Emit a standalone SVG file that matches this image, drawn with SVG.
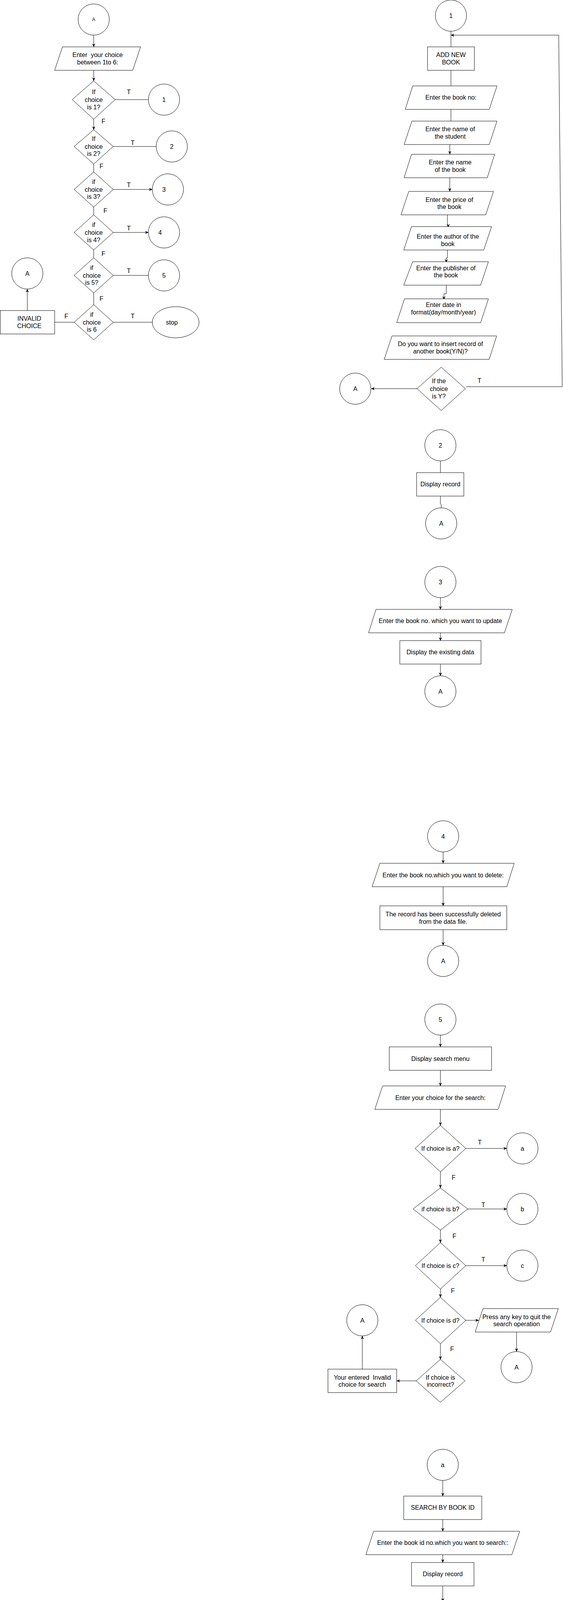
<svg xmlns="http://www.w3.org/2000/svg" width="1442" height="5511" viewBox="0 0 1442 5511">
<style>
.s{fill:#fff;stroke:#000;stroke-width:1}
.c{fill:none;stroke:#000;stroke-width:1}
.a{marker-end:url(#arr)}
text{font-family:"Liberation Sans",Arial,Helvetica,sans-serif;font-size:16px;fill:#000;text-anchor:middle}
.sm{font-size:12px}
</style>
<defs>
<marker id="arr" viewBox="0 0 10 10" refX="10" refY="5" markerWidth="8" markerHeight="8" markerUnits="userSpaceOnUse" orient="auto">
<path d="M0,0.5 L10,5 L0,9.5 L3,5 Z" fill="#000" stroke="#000" stroke-width="0.5"/>
</marker>
</defs>
<rect x="0" y="0" width="1442" height="5511" fill="#fff"/>

<g id="connectors">
<!-- main menu -->
<path class="c a" d="M240,90 L240,120"/>
<path class="c a" d="M240,180 L240,207"/>
<path class="c a" d="M240,305 L240,332"/>
<path class="c" d="M240,420 L240,440"/>
<path class="c" d="M240,530 L240,550"/>
<path class="c" d="M240,640 L240,660"/>
<path class="c" d="M240,750 L240,780"/>
<path class="c" d="M295,255 L380,255"/>
<path class="c" d="M290,375 L400,375"/>
<path class="c a" d="M290,485 L390,485"/>
<path class="c a" d="M290,595 L380,595"/>
<path class="c" d="M290,705 L380,705"/>
<path class="c" d="M290,825 L390,825"/>
<path class="c" d="M190,825 L140,825"/>
<path class="c a" d="M70,795 L70,740"/>
<!-- section 1 -->
<path class="c" d="M1155,120 L1155,80"/>
<path class="c a" d="M1194,990 L1440,990 L1431,90 L1155,90"/>
<path class="c" d="M1155,180 L1155,220"/>
<path class="c" d="M1155,280 L1155,310"/>
<path class="c a" d="M1152,370 L1152,395"/>
<path class="c a" d="M1152,455 L1152,490"/>
<path class="c a" d="M1146,550 L1146,576 L1148,576 L1148,582"/>
<path class="c a" d="M1146,640 L1146,660 L1143,660 L1143,672"/>
<path class="c a" d="M1143,730 L1143,752 L1137,752 L1137,767"/>
<path class="c a" d="M1068,995 L951,995"/>
<!-- section 2 -->
<path class="c" d="M1128,1180 L1128,1210"/>
<path class="c" d="M1128,1270 L1128,1290 L1130,1292 L1130,1300"/>
<!-- section 3 -->
<path class="c a" d="M1128,1530 L1128,1560"/>
<path class="c a" d="M1128,1620 L1128,1640"/>
<path class="c a" d="M1128,1700 L1128,1730"/>
<!-- section 4 -->
<path class="c a" d="M1135,2181 L1135,2210"/>
<path class="c a" d="M1135,2270 L1135,2319"/>
<path class="c a" d="M1135,2380 L1135,2420"/>
<!-- section 5 -->
<path class="c a" d="M1128,2650 L1128,2680"/>
<path class="c a" d="M1128,2740 L1128,2780"/>
<path class="c a" d="M1128,2840 L1128,2881"/>
<path class="c a" d="M1193,2940 L1298,2940"/>
<path class="c a" d="M1128,3000 L1128,3041"/>
<path class="c a" d="M1198,3095 L1298,3095"/>
<path class="c a" d="M1128,3149 L1128,3181"/>
<path class="c a" d="M1193,3240 L1298,3240"/>
<path class="c a" d="M1128,3300 L1128,3321"/>
<path class="c a" d="M1193,3380 L1226,3380"/>
<path class="c a" d="M1323,3410 L1323,3460"/>
<path class="c a" d="M1128,3440 L1128,3480"/>
<path class="c a" d="M1066,3535 L1016,3535"/>
<path class="c a" d="M928,3505 L928,3420"/>
<!-- section a -->
<path class="c a" d="M1134,3790 L1134,3830"/>
<path class="c a" d="M1134,3890 L1134,3920"/>
<path class="c a" d="M1134,3980 L1134,4000"/>
<path class="c a" d="M1134,4060 L1134,4100"/>
<!-- section b -->
<path class="c a" d="M1118,4460 L1118,4490"/>
<path class="c a" d="M1118,4550 L1118,4580"/>
<path class="c a" d="M1118,4640 L1118,4681"/>
<path class="c a" d="M1036,4755 L998,4755"/>
<path class="c a" d="M897,4725 L897,4690"/>
<path class="c a" d="M1118,4830 L1118,4861"/>
<!-- section c -->
<path class="c a" d="M1109,5050 L1109,5080"/>
<path class="c a" d="M1109,5140 L1109,5160 L1110,5160 L1110,5171"/>
<path class="c a" d="M1110,5230 L1110,5270"/>
<path class="c a" d="M1027,5345 L989,5345"/>
<path class="c a" d="M888,5315 L888,5270"/>
<path class="c a" d="M1110,5420 L1110,5450"/>
</g>

<g id="labels">
<text x="330" y="241">T</text>
<text x="265" y="316">F</text>
<text x="340" y="371">T</text>
<text x="260" y="431">F</text>
<text x="330" y="479">T</text>
<text x="270" y="545">F</text>
<text x="330" y="590">T</text>
<text x="265" y="655">F</text>
<text x="330" y="699">T</text>
<text x="260" y="770">F</text>
<text x="340" y="815">T</text>
<text x="170" y="815">F</text>
<text x="1228" y="980">T</text>
<text x="1229" y="2930">T</text>
<text x="1162" y="3020">F</text>
<text x="1238" y="3090">T</text>
<text x="1164" y="3170">F</text>
<text x="1238" y="3230">T</text>
<text x="1160" y="3310">F</text>
<text x="1158" y="3459">F</text>
<text x="1023" y="4740">F</text>
<text x="1165" y="4841">T</text>
<text x="1015" y="5331">F</text>
<text x="1156" y="5430">T</text>
</g>

<!-- main menu -->
<g id="n-A-top"><circle class="s" cx="240" cy="50" r="40"/><text class="sm" x="240" y="54">A</text></g>
<g id="n-enter-choice"><polygon class="s" points="160,120 360,120 340,180 140,180"/><text x="250" y="146" xml:space="preserve">Enter  your choice</text><text x="250" y="165">between 1to 6:</text></g>
<g id="n-d1"><polygon class="s" points="240,207 295,255 240,305 185,255"/><text x="240" y="241">If</text><text x="240" y="261">choice</text><text x="240" y="280">is 1?</text></g>
<g id="n-d2"><polygon class="s" points="240,332 290,375 240,420 190,375"/><text x="240" y="361">If</text><text x="240" y="381">choice</text><text x="240" y="399">is 2?</text></g>
<g id="n-d3"><polygon class="s" points="240,440 290,485 240,530 190,485"/><text x="240" y="471">if</text><text x="240" y="491">choice</text><text x="240" y="509">is 3?</text></g>
<g id="n-d4"><polygon class="s" points="240,550 290,595 240,640 190,595"/><text x="240" y="581">if</text><text x="240" y="601">choice</text><text x="240" y="620">is 4?</text></g>
<g id="n-d5"><polygon class="s" points="240,660 290,705 240,750 190,705"/><text x="235" y="691">if</text><text x="235" y="711">choice</text><text x="235" y="729">is 5?</text></g>
<g id="n-d6"><polygon class="s" points="240,780 290,825 240,870 190,825"/><text x="235" y="811">if</text><text x="235" y="831">choice</text><text x="235" y="849">is 6</text></g>
<g id="n-c1"><circle class="s" cx="420" cy="255" r="40"/><text x="420" y="261">1</text></g>
<g id="n-c2"><circle class="s" cx="440" cy="375" r="40"/><text x="440" y="381">2</text></g>
<g id="n-c3"><circle class="s" cx="430" cy="485" r="40"/><text x="420" y="491">3</text></g>
<g id="n-c4"><circle class="s" cx="420" cy="595" r="40"/><text x="410" y="601">4</text></g>
<g id="n-c5"><circle class="s" cx="420" cy="705" r="40"/><text x="420" y="711">5</text></g>
<g id="n-stop"><ellipse class="s" cx="450" cy="825" rx="60" ry="40"/><text x="440" y="831">stop</text></g>
<g id="n-invalid"><rect class="s" x="0.5" y="795" width="139.5" height="60"/><text x="75" y="821">INVALID</text><text x="75" y="840">CHOICE</text></g>
<g id="n-A-left"><circle class="s" cx="70" cy="700" r="40"/><text x="70" y="706">A</text></g>

<!-- section 1 -->
<g id="n-1"><circle class="s" cx="1155" cy="40" r="40"/><text x="1155" y="46">1</text></g>
<g id="n-addbook"><rect class="s" x="1095" y="120" width="120" height="60"/><text x="1155" y="146">ADD NEW</text><text x="1155" y="165">BOOK</text></g>
<g id="n-bookno"><polygon class="s" points="1057,220 1273,220 1253,280 1038,280"/><text x="1155" y="255">Enter the book no:</text></g>
<g id="n-student"><polygon class="s" points="1055,310 1273,310 1253,370 1035,370"/><text x="1153" y="336">Enter the name of</text><text x="1153" y="355">the student</text></g>
<g id="n-bookname"><polygon class="s" points="1054,395 1267,395 1248,455 1035,455"/><text x="1153" y="421">Enter the name</text><text x="1153" y="440">of the book</text></g>
<g id="n-price"><polygon class="s" points="1047,490 1264,490 1244,550 1027,550"/><text x="1151" y="517">Enter the price of</text><text x="1151" y="535">the book</text></g>
<g id="n-author"><polygon class="s" points="1054,580 1259,580 1239,640 1034,640"/><text x="1147" y="611">Enter the author of the</text><text x="1147" y="630">book</text></g>
<g id="n-publisher"><polygon class="s" points="1057,670 1251,670 1231,730 1034,730"/><text x="1142" y="692">Enter the publisher of</text><text x="1142" y="710">the book</text></g>
<g id="n-date"><polygon class="s" points="1036,765 1251,765 1231,826 1016,826"/><text x="1136" y="786">Enter date in</text><text x="1136" y="805">format(day/month/year)</text></g>
<g id="n-another"><polygon class="s" points="1004,860 1272,860 1253,920 984,920"/><text x="1128" y="886">Do you want to insert record of</text><text x="1128" y="905">another book(Y/N)?</text></g>
<g id="n-isY"><polygon class="s" points="1130,940 1192,995 1130,1051 1068,995"/><text x="1124" y="981">If the</text><text x="1124" y="1001">choice</text><text x="1124" y="1020">is Y?</text></g>
<g id="n-A1"><circle class="s" cx="910" cy="995" r="40"/><text x="910" y="1001">A</text></g>

<!-- section 2 -->
<g id="n-2"><circle class="s" cx="1128" cy="1140" r="40"/><text x="1128" y="1146">2</text></g>
<g id="n-display"><rect class="s" x="1067" y="1210" width="121" height="60"/><text x="1128" y="1245">Display record</text></g>
<g id="n-A2"><circle class="s" cx="1130" cy="1340" r="40"/><text x="1130" y="1346">A</text></g>

<!-- section 3 -->
<g id="n-3"><circle class="s" cx="1128" cy="1490" r="40"/><text x="1128" y="1496">3</text></g>
<g id="n-update"><polygon class="s" points="963,1560 1312,1560 1292,1620 944,1620"/><text x="1128" y="1595">Enter the book no. which you want to update</text></g>
<g id="n-existing"><rect class="s" x="1024" y="1640" width="208" height="60"/><text x="1128" y="1675">Display the existing data</text></g>
<g id="n-A3"><circle class="s" cx="1128" cy="1770" r="40"/><text x="1128" y="1776">A</text></g>

<!-- section 4 -->
<g id="n-4"><circle class="s" cx="1135" cy="2141" r="40"/><text x="1135" y="2147">4</text></g>
<g id="n-delete"><polygon class="s" points="973,2210 1317,2210 1298,2270 953,2270"/><text x="1135" y="2246">Enter the book no.which you want to delete:</text></g>
<g id="n-deleted"><rect class="s" x="973" y="2319" width="325" height="61"/><text x="1135" y="2346">The record has been successfully deleted</text><text x="1135" y="2365">from the data file.</text></g>
<g id="n-A4"><circle class="s" cx="1135" cy="2460" r="40"/><text x="1135" y="2466">A</text></g>

<!-- section 5 -->
<g id="n-5"><circle class="s" cx="1128" cy="2610" r="40"/><text x="1128" y="2616">5</text></g>
<g id="n-searchmenu"><rect class="s" x="997" y="2680" width="262" height="60"/><text x="1128" y="2716">Display search menu</text></g>
<g id="n-searchchoice"><polygon class="s" points="980,2780 1295,2780 1276,2840 960,2840"/><text x="1128" y="2816">Enter your choice for the search:</text></g>
<g id="n-da"><polygon class="s" points="1128,2881 1193,2940 1128,3000 1063,2940"/><text x="1128" y="2946">If choice is a?</text></g>
<g id="n-ca"><circle class="s" cx="1338" cy="2940" r="40"/><text x="1338" y="2946">a</text></g>
<g id="n-db"><polygon class="s" points="1128,3041 1198,3095 1128,3149 1058,3095"/><text x="1128" y="3101">if choice is b?</text></g>
<g id="n-cb"><circle class="s" cx="1338" cy="3095" r="40"/><text x="1338" y="3101">b</text></g>
<g id="n-dc"><polygon class="s" points="1128,3181 1193,3240 1128,3300 1064,3240"/><text x="1128" y="3246">If choice is c?</text></g>
<g id="n-cc"><circle class="s" cx="1338" cy="3240" r="40"/><text x="1338" y="3246">c</text></g>
<g id="n-dd"><polygon class="s" points="1128,3321 1193,3380 1128,3440 1064,3380"/><text x="1128" y="3386">If choice is d?</text></g>
<g id="n-press"><polygon class="s" points="1237,3350 1430,3350 1410,3410 1217,3410"/><text x="1323" y="3377">Press any key to quit the</text><text x="1323" y="3395">search operation</text></g>
<g id="n-A5r"><circle class="s" cx="1323" cy="3500" r="40"/><text x="1323" y="3506">A</text></g>
<g id="n-de"><polygon class="s" points="1128,3480 1191,3535 1128,3590 1066,3535"/><text x="1128" y="3532">If choice is</text><text x="1128" y="3550">incorrect?</text></g>
<g id="n-invalidsearch"><rect class="s" x="840" y="3505" width="176" height="60"/><text x="928" y="3532" xml:space="preserve">Your entered  Invalid</text><text x="928" y="3550">choice for search</text></g>
<g id="n-A5l"><circle class="s" cx="928" cy="3380" r="40"/><text x="928" y="3386">A</text></g>

<!-- section a -->
<g id="n-a"><circle class="s" cx="1134" cy="3750" r="40"/><text x="1134" y="3756">a</text></g>
<g id="n-byid"><rect class="s" x="1034" y="3830" width="200" height="60"/><text x="1134" y="3865">SEARCH BY BOOK ID</text></g>
<g id="n-idno"><polygon class="s" points="957,3920 1331,3920 1311,3980 937,3980"/><text x="1134" y="3955">Enter the book id no.which you want to search::</text></g>
<g id="n-displaya"><rect class="s" x="1054" y="4000" width="160" height="60"/><text x="1134" y="4035">Display record</text></g>
<g id="n-5a"><circle class="s" cx="1134" cy="4140" r="40"/><text x="1134" y="4146">5</text></g>

<!-- section b -->
<g id="n-b"><circle class="s" cx="1118" cy="4420" r="40"/><text x="1118" y="4426">b</text></g>
<g id="n-bystudent"><rect class="s" x="997" y="4490" width="243" height="60"/><text x="1118" y="4525">SEARCH BY STUDENT NAME</text></g>
<g id="n-stdname"><polygon class="s" points="966,4580 1282,4580 1263,4640 956,4640"/><text x="1118" y="4606">Enter the Name of the student which you</text><text x="1118" y="4625">want to search=</text></g>
<g id="n-dstd"><polygon class="s" points="1118,4681 1203,4755 1118,4830 1036,4755"/><text x="1116" y="4761">If stdname==bname</text></g>
<g id="n-notfoundb"><rect class="s" x="797" y="4725" width="201" height="60"/><text x="897" y="4751">The book which you are</text><text x="897" y="4770">searching is not found</text></g>
<g id="n-Ab"><circle class="s" cx="897" cy="4650" r="40"/><text x="897" y="4656">A</text></g>
<g id="n-detailsb"><rect class="s" x="1022" y="4861" width="195" height="59"/><text x="1118" y="4895">Display details</text></g>

<!-- section c -->
<g id="n-c"><circle class="s" cx="1109" cy="5010" r="40"/><text x="1109" y="5016">c</text></g>
<g id="n-bybookname"><rect class="s" x="957" y="5080" width="302" height="60"/><text x="1108" y="5115">SEARCH BY NAME OF THE BOOK</text></g>
<g id="n-bname"><polygon class="s" points="966,5171 1273,5171 1254,5230 946,5230"/><text x="1108" y="5196">Enter the Name of the book which you want</text><text x="1108" y="5215">to search=</text></g>
<g id="n-dbook"><polygon class="s" points="1110,5270 1195,5345 1110,5420 1027,5345"/><text x="1108" y="5351">If bookname==subject</text></g>
<g id="n-notfoundc"><rect class="s" x="788" y="5315" width="200" height="60"/><text x="888" y="5341">The book which you are</text><text x="888" y="5360">searching is not found</text></g>
<g id="n-Ac"><circle class="s" cx="888" cy="5230" r="40"/><text x="888" y="5236">A</text></g>
<g id="n-detailsc"><rect class="s" x="1013" y="5450" width="195" height="60"/><text x="1110" y="5485">Display details</text></g>
</svg>
